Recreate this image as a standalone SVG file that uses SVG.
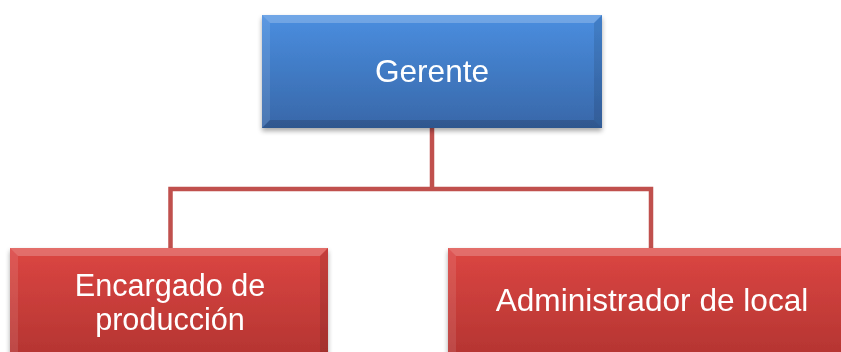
<svg xmlns="http://www.w3.org/2000/svg" width="841" height="352" viewBox="0 0 841 352">
<defs>
<linearGradient id="gb" x1="0" y1="0" x2="0" y2="1">
<stop offset="0" stop-color="#4a8ee0"/>
<stop offset="1" stop-color="#3867a8"/>
</linearGradient>
<linearGradient id="gr" x1="0" y1="0" x2="0" y2="1">
<stop offset="0" stop-color="#dc4642"/>
<stop offset="1" stop-color="#b33431"/>
</linearGradient>
<filter id="sh" x="-10%" y="-10%" width="120%" height="130%">
<feGaussianBlur in="SourceAlpha" stdDeviation="2.5"/>
<feOffset dx="0" dy="3" result="b"/>
<feComponentTransfer><feFuncA type="linear" slope="0.35"/></feComponentTransfer>
<feMerge><feMergeNode/><feMergeNode in="SourceGraphic"/></feMerge>
</filter>
</defs>
<style>
.t{font-family:"Liberation Sans",Arial,sans-serif;font-size:31.6px;fill:#ffffff;text-anchor:middle}
.t2{font-family:"Liberation Sans",Arial,sans-serif;font-size:30.6px;fill:#ffffff;text-anchor:middle}
.c{fill:none;stroke:#c0504d;stroke-width:4.5}
.hl{fill:#ffffff;opacity:0.22}
.hm{fill:#ffffff;opacity:0.10}
.dk{fill:#000000;opacity:0.15}
.dm{fill:#000000;opacity:0.10}
</style>
<g id="connectors">
<path class="c" d="M432 128 V189 M170.5 248 V189 H651 V248"/>
</g>
<g id="gerente" filter="url(#sh)">
<rect x="262" y="15" width="340" height="113" fill="url(#gb)"/>
<polygon class="hl" points="262,15 602,15 594,23 270,23"/>
<polygon class="hm" points="262,15 270,23 270,120 262,128"/>
<polygon class="dm" points="602,15 602,128 594,120 594,23"/>
<polygon class="dk" points="262,128 270,120 594,120 602,128"/>
<text class="t" x="432" y="82">Gerente</text>
</g>
<g id="encargado" filter="url(#sh)">
<rect x="10" y="248" width="318" height="112" fill="url(#gr)"/>
<polygon class="hl" points="10,248 328,248 320,256 18,256"/>
<polygon class="hm" points="10,248 18,256 18,360 10,360"/>
<polygon class="dm" points="328,248 328,360 320,360 320,256"/>
<text class="t2" x="170" y="295.5">Encargado de</text>
<text class="t2" x="170" y="330">producción</text>
</g>
<g id="administrador" filter="url(#sh)">
<rect x="448" y="248" width="408" height="112" fill="url(#gr)"/>
<polygon class="hl" points="448,248 856,248 848,256 456,256"/>
<polygon class="hm" points="448,248 456,256 456,360 448,360"/>
<text class="t" x="652" y="311">Administrador de local</text>
</g>
</svg>
